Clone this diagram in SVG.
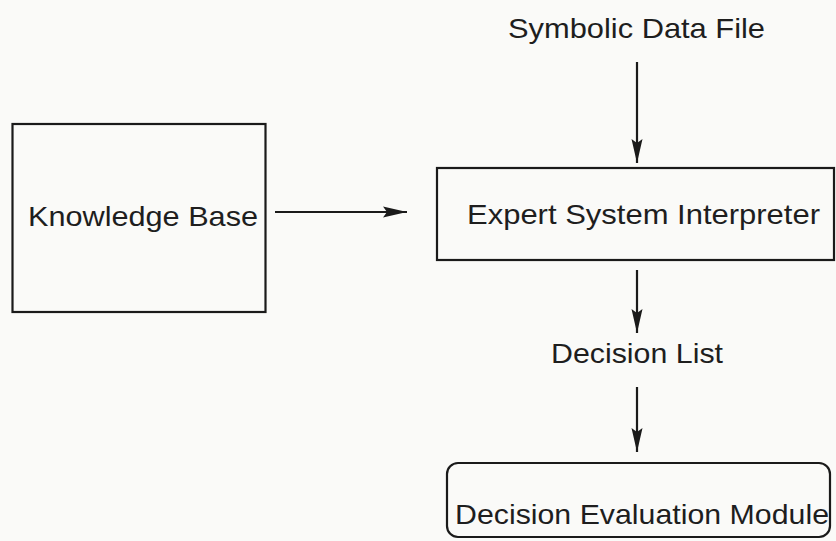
<svg xmlns="http://www.w3.org/2000/svg" width="836" height="541" viewBox="0 0 836 541">
  <style>
    .box { fill: none; stroke: #1a1a1a; stroke-width: 2.2; }
    .lbl { font-family: "Liberation Sans", Arial, Helvetica, sans-serif; font-size: 28px; fill: #1e1e1e; }
    .wire { stroke: #1a1a1a; stroke-width: 2.2; fill: none; marker-end: url(#head); }
  </style>
  <defs>
    <marker id="head" viewBox="0 0 24 12" refX="24" refY="6" markerWidth="24" markerHeight="12" markerUnits="userSpaceOnUse" orient="auto">
      <path d="M0,0.5 L24,6 L0,11.5 L4,6 Z" fill="#1a1a1a"/>
    </marker>
  </defs>
  <rect width="836" height="541" fill="#fafaf8"/>

  <g id="knowledge-base">
    <rect class="box" x="12.5" y="124" width="253" height="188"/>
    <text class="lbl" x="28" y="226" textLength="230" lengthAdjust="spacingAndGlyphs">Knowledge Base</text>
  </g>

  <g id="symbolic-data-file">
    <text class="lbl" x="508" y="38" textLength="257" lengthAdjust="spacingAndGlyphs">Symbolic Data File</text>
  </g>

  <g id="expert-system-interpreter">
    <rect class="box" x="437" y="168" width="397" height="92"/>
    <text class="lbl" x="467" y="224" textLength="353" lengthAdjust="spacingAndGlyphs">Expert System Interpreter</text>
  </g>

  <g id="decision-list">
    <text class="lbl" x="551" y="363" textLength="172" lengthAdjust="spacingAndGlyphs">Decision List</text>
  </g>

  <g id="decision-evaluation-module">
    <rect class="box" x="447" y="463" width="383" height="74" rx="11" ry="11"/>
    <text class="lbl" x="455" y="524" textLength="374" lengthAdjust="spacingAndGlyphs">Decision Evaluation Module</text>
  </g>

  <g id="connectors">
    <line class="wire" x1="275" y1="212" x2="407" y2="212"/>
    <line class="wire" x1="637" y1="62" x2="637" y2="163"/>
    <line class="wire" x1="637" y1="270" x2="637" y2="333"/>
    <line class="wire" x1="637" y1="387" x2="637" y2="452"/>
  </g>
</svg>
